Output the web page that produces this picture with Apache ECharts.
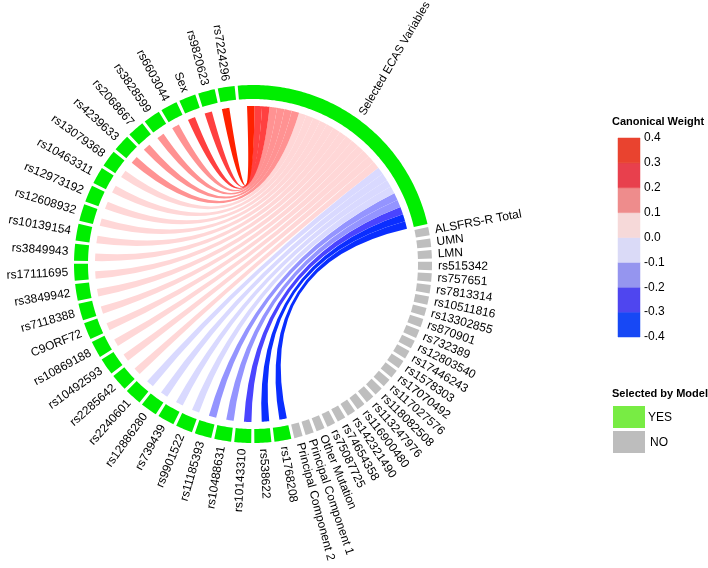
<!DOCTYPE html>
<html><head><meta charset="utf-8">
<script src="https://cdn.jsdelivr.net/npm/echarts@6/dist/echarts.min.js"></script>
<style>html,body{margin:0;padding:0;background:#fff}#c{width:708px;height:568px}</style>
</head><body><div id="c"></div>
<script>
// ---------------- data ----------------
const targetName = 'Selected ECAS Variables';
// not selected (grey), clockwise after the target sector
const notSelected = ['ALSFRS-R Total','UMN','LMN','rs515342','rs757651','rs7813314','rs10511816','rs13302855','rs870901','rs732389','rs12803540','rs17446243','rs1578303','rs17070492','rs117027576','rs118082508','rs113247976','rs116900480','rs142321490','rs74654358','rs75087725','Other Mutation','Principal Component 1','Principal Component 2'];
// selected (green), clockwise after the grey sectors
const selected = ['rs1768208','rs538622','rs10143310','rs10488631','rs11185393','rs9901522','rs739439','rs12886280','rs2240601','rs2285642','rs10492593','rs10869188','C9ORF72','rs7118388','rs3849942','rs17111695','rs3849943','rs10139154','rs12608932','rs12973192','rs10463311','rs13079368','rs4239633','rs2068667','rs3828599','rs6603044','Sex','rs9820623','rs7224296'];
// canonical weights of the selected variables (same order)
const weights = [-0.36,-0.33,-0.25,-0.15,-0.13,-0.08,-0.06,-0.05,-0.03,0.02,0.03,0.04,0.05,0.05,0.06,0.06,0.07,0.07,0.08,0.08,0.09,0.09,0.15,0.14,0.13,0.17,0.22,0.25,0.35];
const weightTicks = [-0.4,-0.3,-0.2,-0.1,0.0,0.1,0.2,0.3,0.4];
const selectionLevels = ['YES','NO'];

// ---------------- style / layout ----------------
const chordColors  = ['#0a2eff','#4a44ff','#9494ff','#d9d9ff','#ffd7d7','#ff9292','#ff4040','#ff2200'];
const legendColors = ['#1748f5','#4f46ef','#9595ef','#dadaf7','#f6d9d9','#ee8c8c','#e8404d','#e9432f'];
const selColors = {YES:'#00ee00', NO:'#bebebe'};
const legendSelColors = {YES:'#78ec44', NO:'#bdbdbd'};
const FONT = '"Liberation Sans", Arial, Helvetica, sans-serif';
const UNIT_TARGET = 30, UNIT_SEL = 2, UNIT_NOT = 1, GAP = 0.366;
const R_OUT = 179, R_IN = 165, R_CHORD = 158, R_LABEL = 185;

// build sector list clockwise
const sectors = [];
let pos = 0;
function addSector(name, size, kind){ sectors.push({name, start: pos, end: pos + size, kind}); pos += size + GAP; }
addSector(targetName, UNIT_TARGET, 'YES');
notSelected.forEach(n => addSector(n, UNIT_NOT, 'NO'));
selected.forEach(n => addSector(n, UNIT_SEL, 'YES'));
const TOTAL = pos;
const targetSec = sectors[0];
const selOffset = 1 + notSelected.length;

// chords: [greenStart, greenEnd, targetStart, targetEnd, weight]
const chordData = selected.map((n, i) => {
  const s = sectors[selOffset + i];
  const k = selected.length - 1 - i;
  const tStart = targetSec.start + 1 + k;
  return [s.start, s.start + 1, tStart, tStart + 1, weights[i]];
});
function bucket(w){ return Math.min(7, Math.max(0, Math.floor((w + 0.4) / 0.1 + 1e-9))); }

function arcPts(api, r, a0, a1, n){ const p=[]; for(let i=0;i<=n;i++){ p.push(api.coord([r, a0 + (a1-a0)*i/n])); } return p; }
function f(p){ return p[0].toFixed(2)+' '+p[1].toFixed(2); }

const ringData = sectors.map((s, i) => [s.start, s.end, i]);
const legendData = [];
for (let i = 0; i < weightTicks.length - 1; i++) legendData.push([0, weightTicks[i], weightTicks[i+1], i]);

const chart = echarts.init(document.getElementById('c'), null, {renderer:'canvas'});
chart.setOption({
  animation: false,
  backgroundColor: '#fff',
  polar: {center: [253, 264], radius: R_OUT},
  angleAxis: {type:'value', min:0, max:TOTAL, startAngle:94.9, clockwise:true, show:false},
  radiusAxis: {type:'value', min:0, max:R_OUT, show:false},
  grid: {left: 618, top: 138, width: 22, height: 199},
  xAxis: {type:'value', min:0, max:1, show:false},
  yAxis: {type:'value', min:-0.4, max:0.4, interval:0.1, position:'right',
    axisLine:{show:false}, axisTick:{show:false}, splitLine:{show:false},
    axisLabel:{margin:4, color:'#000', fontSize:12, fontFamily:FONT,
      formatter: v => Math.abs(v) < 1e-9 ? '0.0' : v.toFixed(1)}},
  graphic: [
    {type:'text', left: 612, top: 116, style:{text:'Canonical Weight', font:'bold 11px '+FONT, fill:'#000'}},
    {type:'text', left: 612, top: 388, style:{text:'Selected by Model', font:'bold 11px '+FONT, fill:'#000'}},
  ].concat(selectionLevels.flatMap((lv, i) => [
    {type:'rect', shape:{x:613, y:406 + i*25, width:32, height:22}, style:{fill: legendSelColors[lv]}},
    {type:'text', x: 648 + i*2, y: 418 + i*25, style:{text: lv, font:'12px '+FONT, fill:'#000', verticalAlign:'middle'}}
  ])),
  series: [
    {
      type:'custom', coordinateSystem:'polar', data: chordData, z: 1,
      renderItem: (params, api) => {
        const a1 = api.value(0), a2 = api.value(1), b1 = api.value(2), b2 = api.value(3), w = api.value(4);
        const A = arcPts(api, R_CHORD, a1, a2, 8), B = arcPts(api, R_CHORD, b1, b2, 8);
        const C = api.coord([0, 0]);
        let d = 'M' + f(A[0]);
        for (let i = 1; i < A.length; i++) d += ' L' + f(A[i]);
        d += ' Q' + f(C) + ' ' + f(B[0]);
        for (let i = 1; i < B.length; i++) d += ' L' + f(B[i]);
        d += ' Q' + f(C) + ' ' + f(A[0]) + ' Z';
        return {type:'path', shape:{pathData: d}, style:{fill: chordColors[bucket(w)], stroke:'none'}};
      }
    },
    {
      type:'custom', coordinateSystem:'polar', data: ringData, z: 2,
      renderItem: (params, api) => {
        const s = sectors[api.value(2)];
        const a0 = api.value(0), a1 = api.value(1);
        const n = Math.max(4, Math.ceil((a1 - a0) * 4));
        const O = arcPts(api, R_OUT, a0, a1, n), I = arcPts(api, R_IN, a1, a0, n);
        let d = 'M' + f(O[0]);
        for (let i = 1; i < O.length; i++) d += ' L' + f(O[i]);
        for (let i = 0; i < I.length; i++) d += ' L' + f(I[i]);
        d += ' Z';
        const mid = (a0 + a1) / 2;
        const p = api.coord([R_LABEL, mid]), c = api.coord([0, mid]);
        let theta = Math.atan2(-(p[1] - c[1]), p[0] - c[0]);
        const right = (p[0] - c[0]) >= -0.01;
        const isTarget = s === targetSec;
        if (isTarget) theta += 0.1;
        return {type:'group', children:[
          {type:'path', shape:{pathData:d}, style:{fill: selColors[s.kind], stroke:'none'}},
          {type:'text', x: p[0], y: p[1], rotation: right ? theta : theta + Math.PI,
           style:{text: s.name, font:(isTarget ? '11.5px ' : '12px ')+FONT, fill:'#000', align: right ? 'left' : 'right', verticalAlign:'middle'}}
        ]};
      }
    },
    {
      type:'custom', coordinateSystem:'cartesian2d', data: legendData,
      renderItem: (params, api) => {
        const p0 = api.coord([api.value(0), api.value(2)]);
        const p1 = api.coord([1, api.value(1)]);
        return {type:'rect', shape:{x:p0[0], y:p0[1], width:p1[0]-p0[0], height:p1[1]-p0[1]},
          style:{fill: legendColors[api.value(3)], stroke: legendColors[api.value(3)], lineWidth: 0.5}};
      }
    }
  ]
});
</script>
</body></html>
